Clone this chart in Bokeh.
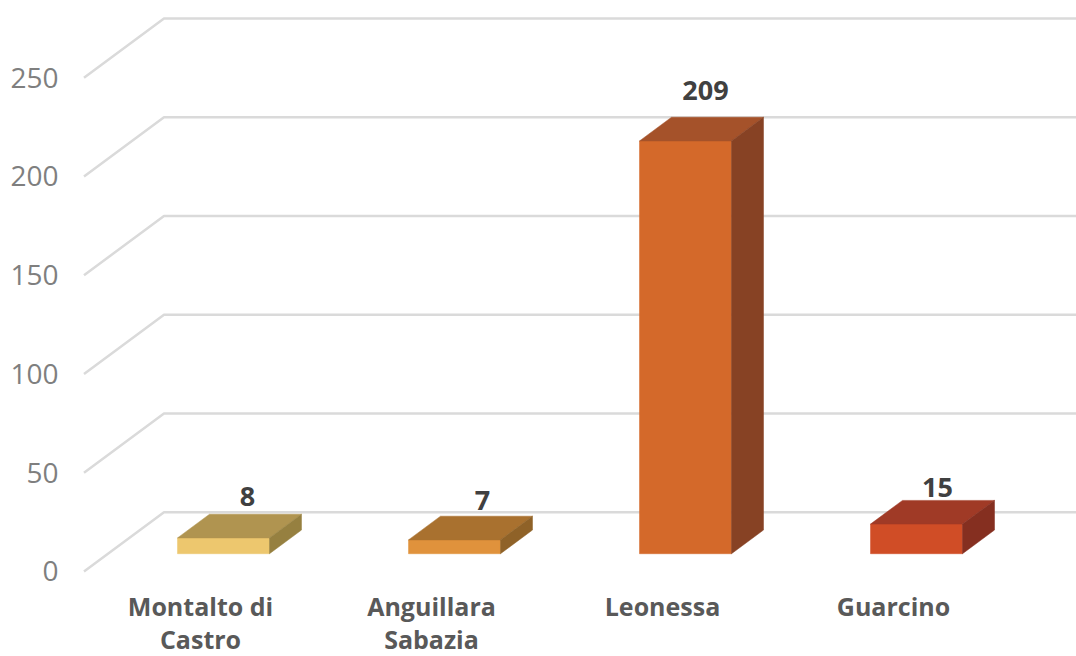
from bokeh.plotting import figure
from bokeh.models import Range1d, FixedTicker, ColumnDataSource
from bokeh.core.properties import value
from bokeh.embed import file_html
from bokeh.resources import INLINE

categories = ["Montalto di\nCastro", "Anguillara\nSabazia", "Leonessa", "Guarcino"]
values = [8, 7, 209, 15]
y_ticks = [0, 50, 100, 150, 200, 250]

front_colors = ["#EDC76E", "#E0923C", "#D4692A", "#D04D26"]
top_colors = ["#B09450", "#A9712F", "#A5522A", "#A03A26"]
side_colors = ["#968040", "#8F6228", "#874224", "#852F20"]
label_dx = [-8, -4, -12, -11]
label_dy = [-18, -16, -27, -13]

# Projection of the 3-D chart: a unit of depth moves right and up.
DX, DY = 80 / 231, 30.0
D0, D1 = 0.3, 0.7
HALF = 46 / 231
X0, X1 = -0.5, 3.8

p = figure(width=1076, height=656, output_backend="svg", toolbar_location=None,
           x_range=Range1d(-0.5584, 3.7965), y_range=Range1d(-43.04, 289.11),
           x_axis_location=None,
           min_border_left=70, min_border_right=0, min_border_top=0, min_border_bottom=0,
           background_fill_color="white", border_fill_color="white", outline_line_color=None)
p.grid.visible = False

# gridlines: floor edge and back wall
gx = [[X0, X0 + DX, X1 + DX] for _ in y_ticks]
gy = [[t, t + DY, t + DY] for t in y_ticks]
p.multi_line(gx, gy, line_color="#DADADA", line_width=2.5)

xs, ys, cols = [], [], []
for i, v in enumerate(values):
    l, r = i - HALF, i + HALF
    a, b = D0 * DX, D1 * DX
    ya, yb = D0 * DY, D1 * DY
    xs.append([l + a, r + a, r + a, l + a]); ys.append([ya, ya, ya + v, ya + v]); cols.append(front_colors[i])
    xs.append([l + a, r + a, r + b, l + b]); ys.append([ya + v, ya + v, yb + v, yb + v]); cols.append(top_colors[i])
    xs.append([r + a, r + b, r + b, r + a]); ys.append([ya, yb, yb + v, ya + v]); cols.append(side_colors[i])
p.patches(xs, ys, fill_color=cols, line_color=cols, line_width=0.5)

src = ColumnDataSource(dict(
    x=[i + D1 * DX for i in range(len(values))],
    y=[D1 * DY + v for v in values],
    t=[str(v) for v in values], dx=label_dx, dy=label_dy))
p.text("x", "y", text="t", source=src, x_offset="dx", y_offset="dy",
       text_align="center", text_baseline="middle", text_font=value("Open Sans"),
       text_font_style="bold", text_font_size="27px", text_color="#404040")

cat_src = ColumnDataSource(dict(x=list(range(len(categories))), y=[0] * len(categories), t=categories))
p.text("x", "y", text="t", source=cat_src, x_offset=1, y_offset=18,
       text_align="center", text_baseline="top", text_font=value("Open Sans"),
       text_font_style="bold", text_font_size="25px", text_color="#595959",
       text_line_height=0.95)

ya_ = p.yaxis[0]
ya_.ticker = FixedTicker(ticks=y_ticks)
ya_.axis_line_color = None
ya_.major_tick_line_color = None
ya_.minor_tick_line_color = None
ya_.major_label_standoff = 6
ya_.major_label_text_font = "Open Sans"
ya_.major_label_text_font_size = "28px"
ya_.major_label_text_color = "#7F7F7F"

open("out.html", "w").write(file_html(p, INLINE))
